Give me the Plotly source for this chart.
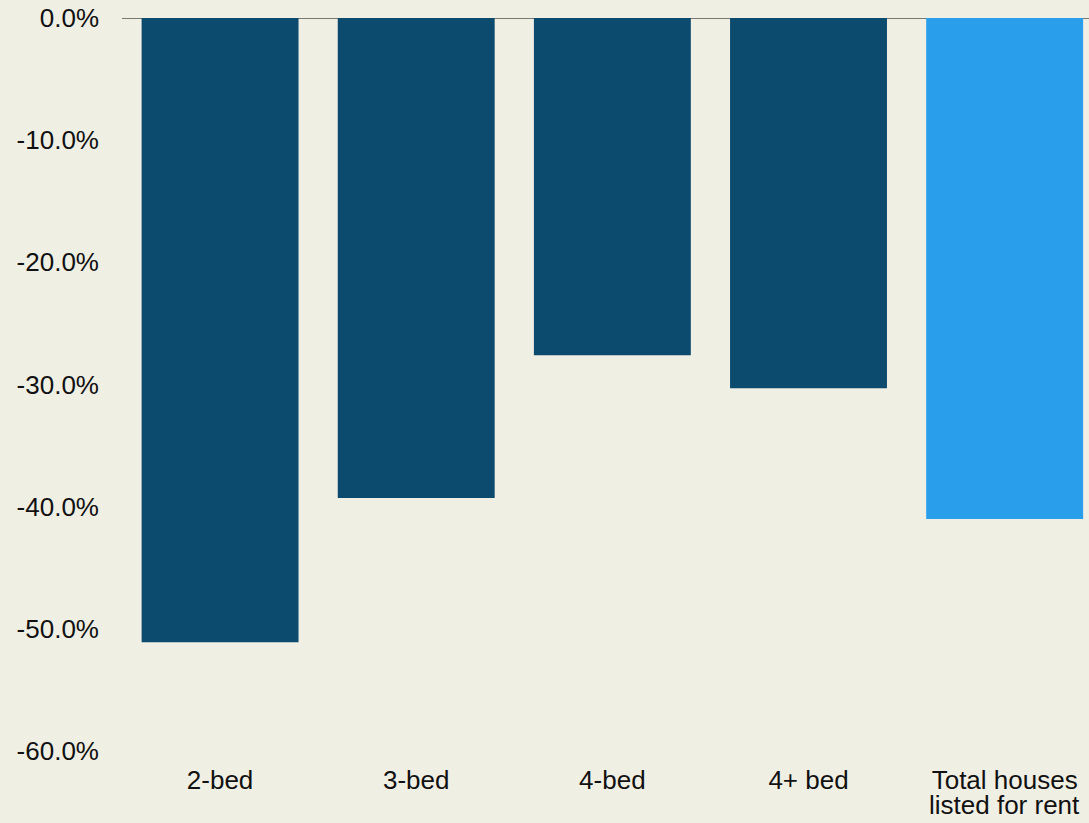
import plotly.graph_objects as go

categories = ["2-bed", "3-bed", "4-bed", "4+ bed", "Total houses\nlisted for rent"]
values = [-51.1, -39.3, -27.6, -30.3, -41.0]
bar_colors = ["#0C4A6E", "#0C4A6E", "#0C4A6E", "#0C4A6E", "#299FEB"]
y_ticks = [0, -10, -20, -30, -40, -50, -60]
y_tick_labels = ["0.0%", "-10.0%", "-20.0%", "-30.0%", "-40.0%", "-50.0%", "-60.0%"]

FONT = "Liberation Sans, Arial, sans-serif"
xs = list(range(len(categories)))

fig = go.Figure(go.Bar(
    x=xs,
    y=values,
    marker=dict(color=bar_colors, line=dict(width=0)),
    hoverinfo="skip",
))

# first line of each category as tick label, extra lines as annotations (tighter line spacing)
first_lines = [c.split("\n")[0] for c in categories]
for i, c in enumerate(categories):
    for j, line in enumerate(c.split("\n")[1:], start=1):
        fig.add_annotation(
            x=i, xref="x", y=0, yref="paper",
            text=line, showarrow=False,
            yanchor="top", yshift=-28 * j - 9,
            font=dict(family=FONT, size=26, color="#111111"),
        )

fig.update_layout(
    width=1089, height=823,
    margin=dict(l=122, r=0, t=18, b=72),
    paper_bgcolor="#F0EFE4",
    plot_bgcolor="#F0EFE4",
    bargap=0.2,
    showlegend=False,
    font=dict(family=FONT, size=26, color="#111111"),
    xaxis=dict(
        range=[-0.5, 4.43],
        tickmode="array",
        tickvals=xs,
        ticktext=first_lines,
        showgrid=False,
        zeroline=False,
        showline=False,
        ticks="",
        ticklabelstandoff=11,
    ),
    yaxis=dict(
        range=[-60, 0],
        tickmode="array",
        tickvals=y_ticks,
        ticktext=y_tick_labels,
        showgrid=False,
        zeroline=True,
        zerolinecolor="#7A7A72",
        zerolinewidth=1,
        showline=False,
        ticks="",
        ticklabelstandoff=22,
    ),
)

fig.write_html("out.html")
